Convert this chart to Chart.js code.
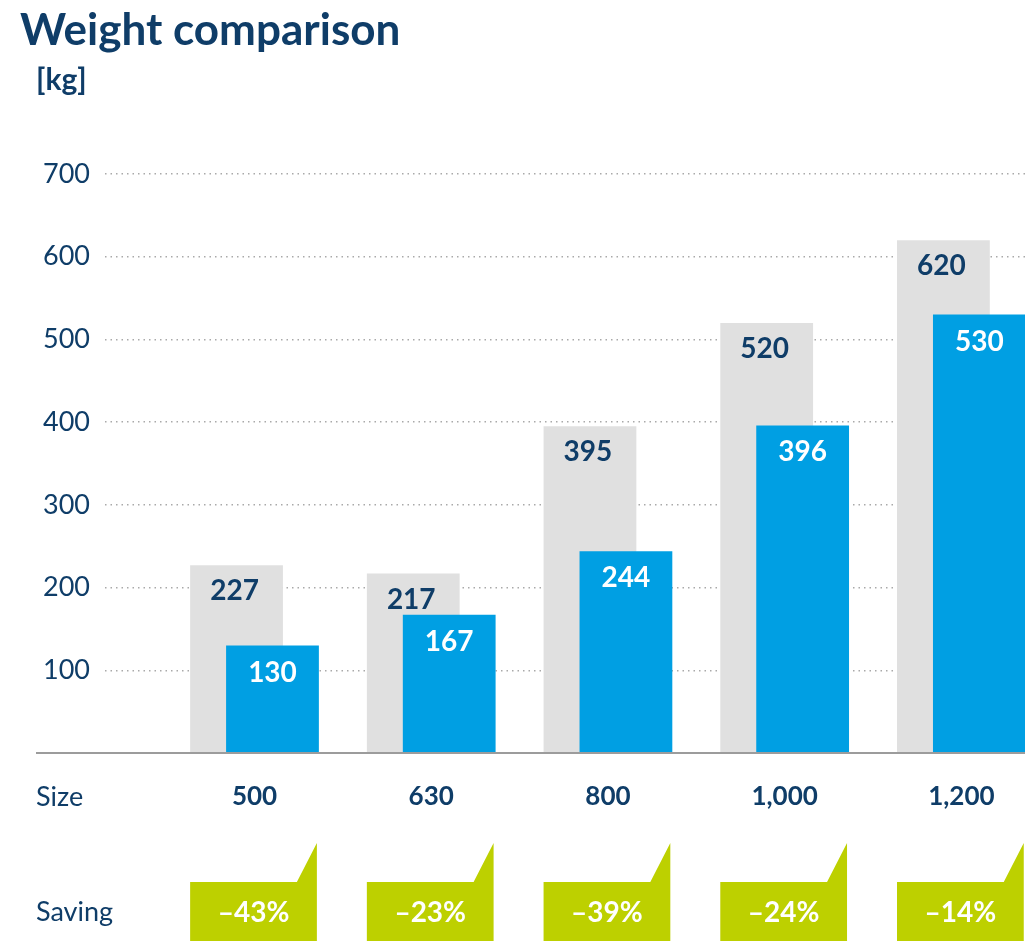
<!DOCTYPE html>
<html>
<head>
<meta charset="utf-8">
<title>Weight comparison</title>
<script src="https://cdn.jsdelivr.net/npm/chart.js@4.4.1/dist/chart.umd.min.js"></script>
<style>
  html, body { margin: 0; padding: 0; background: #fff; overflow: hidden; }
  canvas { display: block; }
</style>
</head>
<body>
<canvas id="grafico-peso" width="1025" height="941"></canvas>
<script>
// data
const sizes = ["500", "630", "800", "1,000", "1,200"];
const pesoVecchio = [227, 217, 395, 520, 620];   // grey bars
const pesoNuovo = [130, 167, 244, 396, 530];     // blue bars
const risparmio = ["\u201343%", "\u201323%", "\u201339%", "\u201324%", "\u201314%"];
const yTicks = [0, 100, 200, 300, 400, 500, 600, 700];

const NAVY = "#0f3d68";
const GRIGIO = "#e0e0e0";
const BLU = "#009fe3";
const VERDE = "#bdd000";
const FONT = "Lato, 'Open Sans', sans-serif";

// blue bars have to sit over the grey ones
let disegnoManuale = false;
const ordineBarre = {
  id: "ordineBarre",
  beforeDatasetDraw(chart, args) {
    if (args.index === 1 && !disegnoManuale) return false;
  },
  afterDatasetsDraw(chart) {
    const ctx = chart.ctx;
    const a = chart.chartArea;
    ctx.save();
    ctx.beginPath();
    ctx.rect(a.left, a.top - 2, a.right - a.left, a.bottom - a.top + 2);
    ctx.clip();
    disegnoManuale = true;
    chart.getDatasetMeta(1).controller.draw();
    disegnoManuale = false;
    ctx.restore();
  }
};

const decorazioni = {
  id: "decorazioni",
  afterDraw(chart) {
    const ctx = chart.ctx;
    const a = chart.chartArea;
    const y = chart.scales.y;
    const base = y.getPixelForValue(0);
    const grigi = chart.getDatasetMeta(0).data;
    const blu = chart.getDatasetMeta(1).data;

    ctx.save();
    // baseline
    ctx.strokeStyle = "#9c9c9c";
    ctx.lineWidth = 2;
    ctx.beginPath();
    ctx.moveTo(36, base);
    ctx.lineTo(chart.width, base);
    ctx.stroke();

    // header
    ctx.fillStyle = NAVY;
    ctx.textAlign = "left";
    ctx.textBaseline = "alphabetic";
    ctx.font = "bold 44px " + FONT;
    ctx.fillText("Weight comparison", 20, 45);
    ctx.font = "bold 30px " + FONT;
    ctx.fillText("[kg]", 36, 90);

    // row captions
    ctx.textBaseline = "middle";
    ctx.font = "27px " + FONT;
    ctx.fillText("Size", 36, a.bottom + 44);
    ctx.fillText("Saving", 36, a.bottom + 159);

    // value labels inside the bars
    ctx.textAlign = "center";
    ctx.font = "bold 28px " + FONT;
    grigi.forEach((el, i) => {
      ctx.fillStyle = NAVY;
      ctx.fillText(String(pesoVecchio[i]), el.x - 2, el.y + 26);
    });
    blu.forEach((el, i) => {
      ctx.fillStyle = "#ffffff";
      ctx.fillText(String(pesoNuovo[i]), el.x, el.y + 27);
    });

    // saving flags
    const punta = a.bottom + 90;
    const cima = a.bottom + 129;
    const fondo = chart.height;
    grigi.forEach((el, i) => {
      const sx = el.x - el.width / 2;
      const dx = blu[i].x + blu[i].width / 2 - 2;
      ctx.fillStyle = VERDE;
      ctx.beginPath();
      ctx.moveTo(sx, cima);
      ctx.lineTo(dx - 20, cima);
      ctx.lineTo(dx, punta);
      ctx.lineTo(dx, fondo);
      ctx.lineTo(sx, fondo);
      ctx.closePath();
      ctx.fill();
      ctx.fillStyle = "#ffffff";
      ctx.font = "bold 28px " + FONT;
      ctx.fillText(risparmio[i], (sx + dx) / 2, a.bottom + 160);
    });
    ctx.restore();
  }
};

function renderGrafico() {
  const ctx = document.getElementById("grafico-peso").getContext("2d");

  new Chart(ctx, {
    type: "bar",
    data: {
      datasets: [{
        label: "Old",
        data: pesoVecchio.map((v, i) => ({ x: i, y: v })),
        backgroundColor: GRIGIO,
        borderWidth: 0
      }, {
        label: "New",
        data: pesoNuovo.map((v, i) => ({ x: i, y: v })),
        backgroundColor: BLU,
        borderWidth: 0
      }]
    },
    options: {
      responsive: false,
      animation: false,
      devicePixelRatio: 1,
      categoryPercentage: 0.407,
      barPercentage: 2.58,
      layout: {
        padding: { top: 174, right: 0, bottom: 0, left: 0 }
      },
      plugins: {
        legend: { display: false },
        tooltip: { enabled: false }
      },
      scales: {
        x: {
          type: "linear",
          offset: false,
          min: -0.846,
          max: 4.36,
          afterFit: (scale) => {
            scale.height = 188;
            scale.paddingLeft = 0;
            scale.paddingRight = 0;
          },
          grid: { display: false, drawTicks: false },
          border: { display: false },
          ticks: {
            stepSize: 1,
            includeBounds: false,
            autoSkip: false,
            maxRotation: 0,
            padding: 28,
            color: NAVY,
            font: { family: FONT, size: 26, weight: "bold" },
            callback: (v) => Number.isInteger(v) && sizes[v] ? sizes[v] : ""
          }
        },
        y: {
          min: 0,
          max: 700,
          afterFit: (scale) => { scale.width = 105; },
          afterBuildTicks: (scale) => { scale.ticks = yTicks.map(v => ({ value: v })); },
          grid: {
            drawTicks: false,
            lineWidth: 1.5,
            color: (c) => c.tick && c.tick.value === 0 ? "rgba(0,0,0,0)" : "#a9a9a9"
          },
          border: { display: false, dash: [1.5, 4] },
          ticks: {
            padding: 15,
            color: NAVY,
            font: { family: FONT, size: 27 },
            callback: (v) => v === 0 ? "" : String(v)
          }
        }
      }
    },
    plugins: [ordineBarre, decorazioni]
  });
}

renderGrafico();
</script>
</body>
</html>
